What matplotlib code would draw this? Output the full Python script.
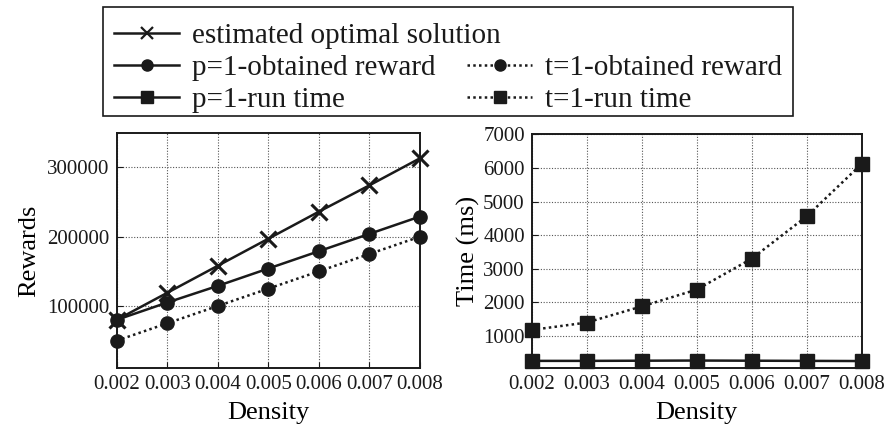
import matplotlib
matplotlib.use('Agg')
import matplotlib.pyplot as plt
from matplotlib.lines import Line2D
from matplotlib.patches import Rectangle

plt.rcParams['font.family'] = ['Liberation Serif', 'DejaVu Serif']

# data
density = [0.002, 0.003, 0.004, 0.005, 0.006, 0.007, 0.008]
density_labels = ['0.002', '0.003', '0.004', '0.005', '0.006', '0.007', '0.008']
est_optimal = [80000, 119000, 158000, 197000, 236000, 274000, 313000]
p1_reward = [80000, 105000, 129000, 154000, 179000, 204000, 229000]
t1_reward = [50000, 75000, 100000, 125000, 150000, 175000, 200000]
p1_time = [260, 260, 265, 270, 265, 260, 255]
t1_time = [1180, 1400, 1880, 2380, 3300, 4560, 6120]

reward_ticks = [100000, 200000, 300000]
time_ticks = [1000, 2000, 3000, 4000, 5000, 6000, 7000]

ink = '#1a1a1a'
lw = 1.8
dots = (0, (1, 1.3))
W, H = 884, 430

fig = plt.figure(figsize=(W / 100, H / 100), dpi=100)
ax1 = fig.add_axes([116.7 / W, 1 - 367.7 / H, (420 - 116.7) / W, (367.7 - 133.3) / H])
ax2 = fig.add_axes([531.7 / W, 1 - 367.7 / H, (861.7 - 531.7) / W, (367.7 - 134.3) / H])

# left: rewards
ax1.plot(density, est_optimal, color=ink, lw=lw, marker='x', ms=12, mew=2.2, clip_on=False, zorder=3)
ax1.plot(density, p1_reward, color=ink, lw=lw, marker='o', ms=9.5, clip_on=False, zorder=3)
ax1.plot(density, t1_reward, color=ink, lw=lw, ls=dots, marker='o', ms=9.5, clip_on=False, zorder=3)
ax1.set_ylim(11000, 349000)
ax1.set_yticks(reward_ticks)
ax1.set_ylabel('Rewards', fontsize=19, labelpad=5)

# right: run time
ax2.plot(density, p1_time, color=ink, lw=lw, marker='s', ms=10, clip_on=False, zorder=3)
ax2.plot(density, t1_time, color=ink, lw=lw, ls=dots, marker='s', ms=10, clip_on=False, zorder=3)
ax2.set_ylim(57, 7000)
ax2.set_yticks(time_ticks)
ax2.set_ylabel('Time (ms)', fontsize=19, labelpad=2)

for ax in (ax1, ax2):
    ax.set_xlim(density[0], density[-1])
    ax.set_xticks(density)
    ax.set_xticklabels(density_labels)
    ax.set_xlabel('Density', fontsize=19, labelpad=6)
    ax.grid(True, color='#555555', ls=(0, (1, 1.5)), lw=0.8)
    ax.tick_params(direction='in', labelsize=15, colors=ink, length=4, pad=5)
    for s in ax.spines.values():
        s.set_linewidth(1.4)
        s.set_color(ink)

# legend drawn by hand (gnuplot-style layout), pixel coords from the top-left
def fx(x):
    return x / W

def fy(y):
    return 1 - y / H

fig.add_artist(Rectangle((fx(103), fy(116)), fx(793) - fx(103), fy(7) - fy(116),
                         transform=fig.transFigure, fill=False, edgecolor=ink, lw=1.2))

legend_rows = [
    (114, 33, '-', 'x', 'estimated optimal solution'),
    (114, 65, '-', 'o', 'p=1-obtained reward'),
    (114, 97, '-', 's', 'p=1-run time'),
    (467, 65, dots, 'o', 't=1-obtained reward'),
    (467, 97, dots, 's', 't=1-run time'),
]
for x0, y, ls, mk, label in legend_rows:
    fig.add_artist(Line2D([fx(x0), fx(x0 + 65)], [fy(y), fy(y)], transform=fig.transFigure,
                          color=ink, lw=lw, ls=ls))
    fig.add_artist(Line2D([fx(x0 + 32.5)], [fy(y)], transform=fig.transFigure,
                          color=ink, marker=mk, ms=8, mew=1.6 if mk == 'x' else 1, ls='none'))
    fig.text(fx(x0 + 78), fy(y), label, fontsize=21, color=ink, ha='left', va='center_baseline')

fig.savefig('out.png', dpi=100, facecolor='white')
